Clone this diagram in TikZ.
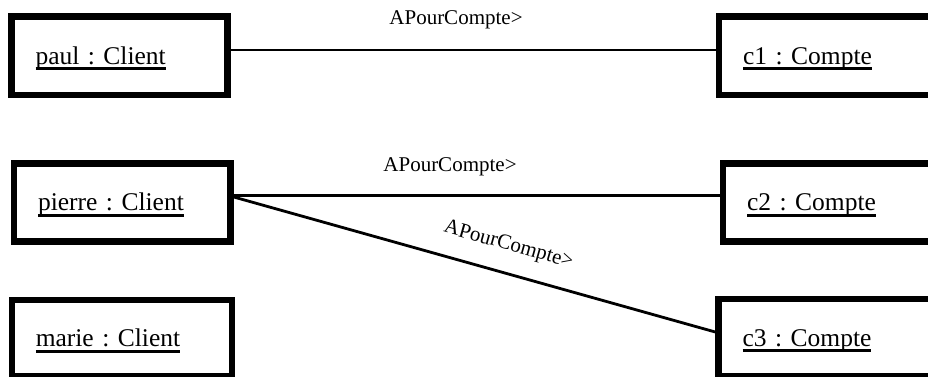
\documentclass[tikz,border=0pt]{standalone}
\usepackage{fontspec}
\setmainfont{Liberation Serif}
\frenchspacing
\newsavebox{\ulbox}
\newcommand\myul[1]{\sbox{\ulbox}{#1}\rlap{\rule[-6pt]{\wd\ulbox}{2.8pt}}\usebox{\ulbox}}
\begin{document}
\begin{tikzpicture}[x=1pt,y=1pt,
  obj/.style={draw, rectangle, line width=6.5pt, inner xsep=24pt, inner ysep=0pt,
    text height=20pt, text depth=3pt, align=left,
    font=\fontsize{25.5}{30}\selectfont},
  conn/.style={line width=2.8pt},
  lab/.style={inner sep=0pt, font=\fontsize{21}{25}\selectfont}]
\useasboundingbox (0,0) rectangle (928,377);
\clip (0,0) rectangle (928,377);
% objects
\node[obj, text width=168pt, minimum height=78.5pt] (paul) at (119.5,321.25) {\myul{paul : Client}};
\node[obj, text width=168pt, minimum height=78.5pt] (c1) at (827,321.25) {\myul{c1 : Compte}};
\node[obj, text width=168.5pt, minimum height=78pt] (pierre) at (122.25,174.5) {\myul{pierre : Client}};
\node[obj, text width=168pt, minimum height=78pt] (c2) at (831,174.5) {\myul{c2 : Compte}};
\node[obj, text width=172pt, minimum height=76.5pt] (marie) at (121.75,38.75) {\myul{marie : Client}};
\node[obj, text width=168pt, minimum height=77.5pt] (c3) at (826.5,39.25) {\myul{c3 : Compte}};
% links
\draw[conn] ([yshift=5.75pt]paul.east) -- ([yshift=5.75pt]c1.west);
\draw[conn] ([yshift=7pt]pierre.east) -- ([yshift=7pt]c2.west);
\draw[conn] ([yshift=5.5pt]pierre.east) -- node[lab, sloped, above=17pt, pos=0.555] (l3) {APourCompte>} ([yshift=5.75pt]c3.west);
% labels
\node[lab, anchor=base] (l1) at (456,352) {APourCompte>};
\node[lab, anchor=base] (l2) at (450,205.3) {APourCompte>};
\end{tikzpicture}
\end{document}
